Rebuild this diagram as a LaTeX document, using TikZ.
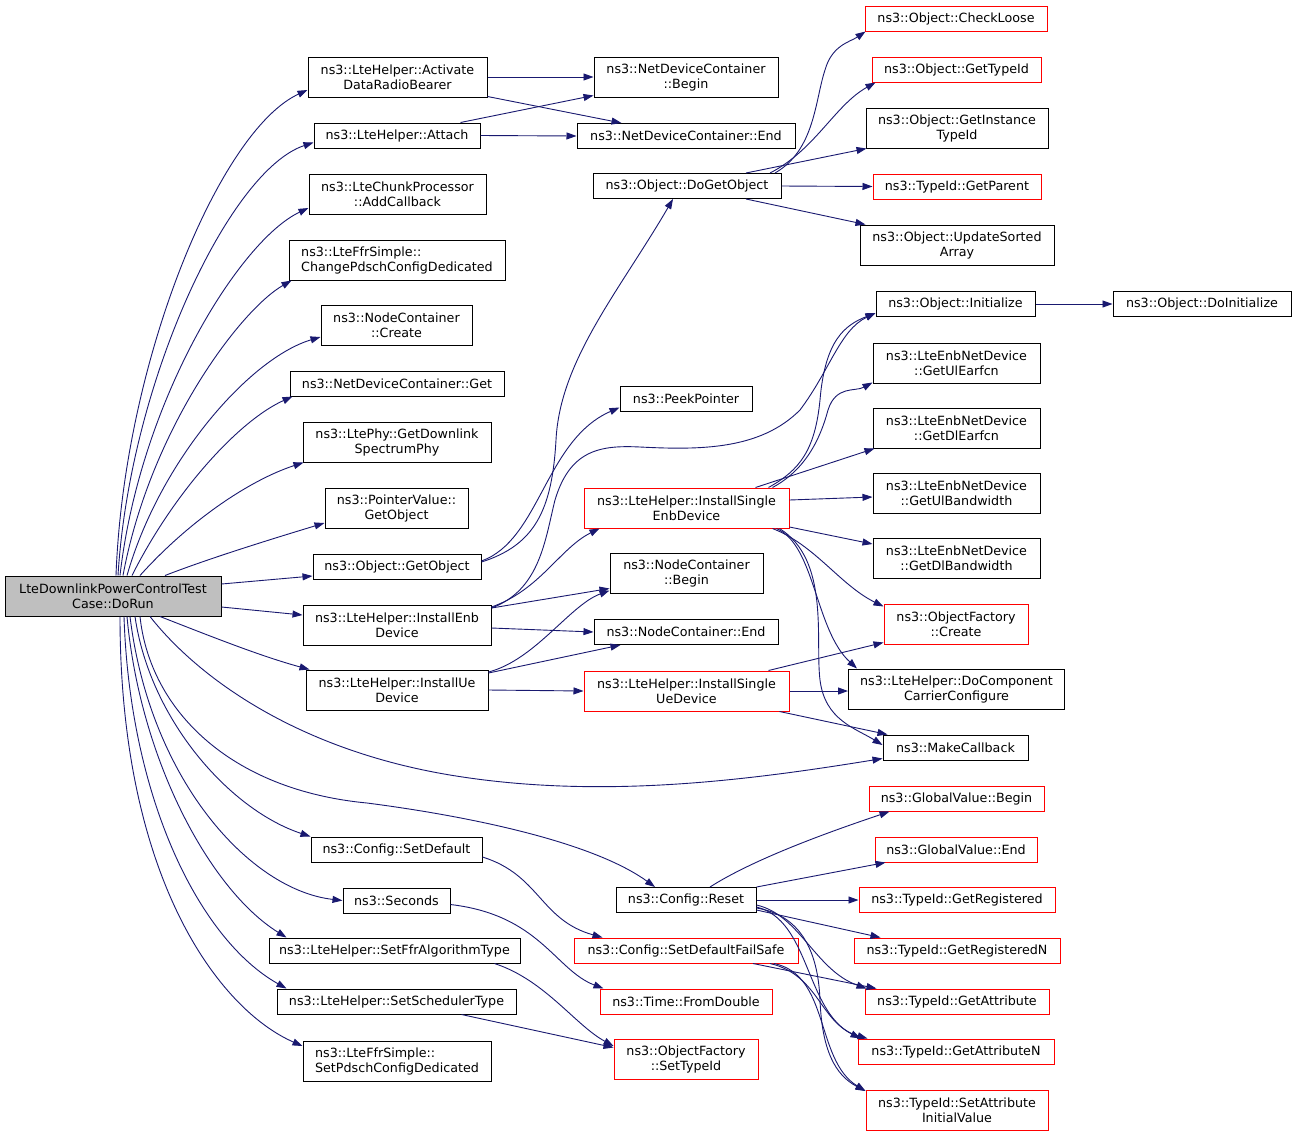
\documentclass[tikz,border=0pt]{standalone}
\usepackage{fontspec}
\setmainfont{DejaVu Sans}
\usetikzlibrary{arrows.meta}
\definecolor{edgeblue}{HTML}{191970}
\definecolor{nodegray}{HTML}{BFBFBF}
\begin{document}
\begin{tikzpicture}[x=1pt,y=-1pt,
  fn/.style={draw=black, fill=white, line width=1pt, inner sep=0pt, align=center, font=\fontsize{12.7}{15}\selectfont},
  fnred/.style={fn, draw=red},
  fnroot/.style={fn, fill=nodegray},
  call/.style={draw=edgeblue, line width=0.9pt, -{Triangle[length=10pt,width=7pt]}},
]
\useasboundingbox[fill=white] (0,0) rectangle (1296,1136);

% ---------- nodes ----------
\node[fnroot, minimum width=216pt, minimum height=40pt] (root) at (113,596) {LteDownlinkPowerControlTest\\Case::DoRun};

\node[fn, minimum width=179pt, minimum height=40pt] (A1) at (397.5,77) {ns3::LteHelper::Activate\\DataRadioBearer};
\node[fn, minimum width=166pt, minimum height=25pt] (A2) at (397,135.5) {ns3::LteHelper::Attach};
\node[fn, minimum width=177pt, minimum height=40pt] (A3) at (397.5,194) {ns3::LteChunkProcessor\\::AddCallback};
\node[fn, align=left, minimum width=216pt, minimum height=40pt] (A4) at (397,260) {ns3::LteFfrSimple::\\ChangePdschConfigDedicated};
\node[fn, minimum width=151pt, minimum height=40pt] (A5) at (396.5,325) {ns3::NodeContainer\\::Create};
\node[fn, minimum width=214pt, minimum height=25pt] (A6) at (397,383.5) {ns3::NetDeviceContainer::Get};
\node[fn, minimum width=188pt, minimum height=40pt] (A7) at (397,442) {ns3::LtePhy::GetDownlink\\SpectrumPhy};
\node[fn, minimum width=143pt, minimum height=40pt] (A8) at (396.5,508) {ns3::PointerValue::\\GetObject};
\node[fn, minimum width=168pt, minimum height=25pt] (A9) at (397,566.5) {ns3::Object::GetObject};
\node[fn, minimum width=188pt, minimum height=40pt] (A10) at (397,625) {ns3::LteHelper::InstallEnb\\Device};
\node[fn, minimum width=182pt, minimum height=40pt] (A11) at (397,690) {ns3::LteHelper::InstallUe\\Device};
\node[fn, minimum width=171pt, minimum height=25pt] (A12) at (396.5,849.5) {ns3::Config::SetDefault};
\node[fn, minimum width=107pt, minimum height=25pt] (A13) at (396.5,900.5) {ns3::Seconds};
\node[fn, minimum width=251pt, minimum height=25pt] (A14) at (394.5,950.5) {ns3::LteHelper::SetFfrAlgorithmType};
\node[fn, minimum width=239pt, minimum height=25pt] (A15) at (396.5,1001.5) {ns3::LteHelper::SetSchedulerType};
\node[fn, align=left, minimum width=188pt, minimum height=40pt] (A16) at (397,1061) {ns3::LteFfrSimple::\\SetPdschConfigDedicated};

\node[fn, minimum width=184pt, minimum height=40pt] (B1) at (686,77) {ns3::NetDeviceContainer\\::Begin};
\node[fn, minimum width=218pt, minimum height=25pt] (B2) at (686,136) {ns3::NetDeviceContainer::End};
\node[fn, minimum width=188pt, minimum height=25pt] (B3) at (687,186) {ns3::Object::DoGetObject};
\node[fn, minimum width=132pt, minimum height=25pt] (B4) at (686,398.5) {ns3::PeekPointer};
\node[fnred, minimum width=205pt, minimum height=40pt] (B5) at (686.5,508) {ns3::LteHelper::InstallSingle\\EnbDevice};
\node[fn, minimum width=153pt, minimum height=40pt] (B6) at (686.5,573) {ns3::NodeContainer\\::Begin};
\node[fn, minimum width=184pt, minimum height=25pt] (B7) at (686,632) {ns3::NodeContainer::End};
\node[fnred, minimum width=205pt, minimum height=40pt] (B8) at (686.5,691) {ns3::LteHelper::InstallSingle\\UeDevice};
\node[fn, minimum width=140pt, minimum height=25pt] (B9) at (686,900) {ns3::Config::Reset};
\node[fnred, minimum width=224pt, minimum height=25pt] (B10) at (686,950.5) {ns3::Config::SetDefaultFailSafe};
\node[fnred, minimum width=172pt, minimum height=25pt] (B11) at (686,1001.5) {ns3::Time::FromDouble};
\node[fnred, minimum width=144pt, minimum height=40pt] (B12) at (686,1059.5) {ns3::ObjectFactory\\::SetTypeId};

\node[fnred, minimum width=182pt, minimum height=25pt] (C1) at (956,18.5) {ns3::Object::CheckLoose};
\node[fnred, minimum width=169pt, minimum height=25pt] (C2) at (956.5,69.5) {ns3::Object::GetTypeId};
\node[fn, minimum width=182pt, minimum height=40pt] (C3) at (957,128) {ns3::Object::GetInstance\\TypeId};
\node[fnred, minimum width=168pt, minimum height=25pt] (C4) at (957,186.5) {ns3::TypeId::GetParent};
\node[fn, minimum width=194pt, minimum height=40pt] (C5) at (957,245) {ns3::Object::UpdateSorted\\Array};
\node[fn, minimum width=159pt, minimum height=25pt] (C6) at (955.5,304) {ns3::Object::Initialize};
\node[fn, minimum width=178pt, minimum height=25pt] (C7) at (1202,304) {ns3::Object::DoInitialize};

\node[fn, minimum width=167pt, minimum height=40pt] (D1) at (956.5,363) {ns3::LteEnbNetDevice\\::GetUlEarfcn};
\node[fn, minimum width=167pt, minimum height=40pt] (D2) at (956.5,428) {ns3::LteEnbNetDevice\\::GetDlEarfcn};
\node[fn, minimum width=167pt, minimum height=40pt] (D3) at (956.5,493) {ns3::LteEnbNetDevice\\::GetUlBandwidth};
\node[fn, minimum width=167pt, minimum height=40pt] (D4) at (956.5,558.5) {ns3::LteEnbNetDevice\\::GetDlBandwidth};
\node[fnred, minimum width=144pt, minimum height=40pt] (D5) at (956,624) {ns3::ObjectFactory\\::Create};
\node[fn, minimum width=216pt, minimum height=40pt] (D6) at (956.5,689) {ns3::LteHelper::DoComponent\\CarrierConfigure};
\node[fn, minimum width=145pt, minimum height=25pt] (D7) at (955.5,747.5) {ns3::MakeCallback};

\node[fnred, minimum width=175pt, minimum height=25pt] (E1) at (956.5,798.5) {ns3::GlobalValue::Begin};
\node[fnred, minimum width=162pt, minimum height=25pt] (E2) at (956,849.5) {ns3::GlobalValue::End};
\node[fnred, minimum width=196pt, minimum height=25pt] (E3) at (957,900) {ns3::TypeId::GetRegistered};
\node[fnred, minimum width=206pt, minimum height=25pt] (E4) at (957,950.5) {ns3::TypeId::GetRegisteredN};
\node[fnred, minimum width=184pt, minimum height=25pt] (E5) at (957,1001.5) {ns3::TypeId::GetAttribute};
\node[fnred, minimum width=196pt, minimum height=25pt] (E6) at (956,1051.5) {ns3::TypeId::GetAttributeN};
\node[fnred, minimum width=182pt, minimum height=40pt] (E7) at (957,1110.5) {ns3::TypeId::SetAttribute\\InitialValue};

% ---------- edges from root ----------
\draw[call] ([xshift=3pt]root.north) .. controls (124,360) and (220,130) .. ([yshift=-13pt]A1.west);
\draw[call] ([xshift=5pt]root.north) .. controls (130,380) and (230,170) .. ([yshift=-7pt]A2.west);
\draw[call] ([xshift=7pt]root.north) .. controls (140,400) and (240,240) .. ([yshift=-14pt]A3.west);
\draw[call] ([xshift=10pt]root.north) .. controls (150,430) and (240,310) .. ([xshift=3pt]A4.south west);
\draw[call] ([xshift=14pt]root.north) .. controls (160,460) and (250,358) .. ([yshift=-12pt]A5.west);
\draw[call] ([xshift=19pt]root.north) .. controls (175,490) and (240,420) .. ([xshift=3pt]A6.south west);
\draw[call] ([xshift=27pt]root.north) .. controls (190,520) and (250,480) .. ([xshift=1pt]A7.south west);
\draw[call] ([xshift=52pt]root.north) .. controls (210,558) and (275,538) .. ([yshift=-15pt]A8.west);
\draw[call] ([yshift=12pt]root.east) -- ([yshift=-9.5pt]A9.west);
\draw[call] ([yshift=-11pt]root.east) -- ([yshift=10pt]A10.west);
\draw[call] ([xshift=47pt]root.south) .. controls (210,636) and (260,656) .. ([xshift=4pt]A11.north west);
\draw[call] ([xshift=37pt]root.south) .. controls (200,680) and (300,750) .. (450,775) .. controls (600,800) and (750,780) .. ([yshift=2pt]D7.south west);
\draw[call] ([xshift=27pt]root.south) .. controls (150,710) and (230,790) .. (367,803) .. controls (460,815) and (590,840) .. ([xshift=-31pt]B9.north);
\draw[call] ([xshift=22pt]root.south) .. controls (150,720) and (230,810) .. (A12.north west);
\draw[call] ([xshift=17pt]root.south) .. controls (150,780) and (250,890) .. (A13.west);
\draw[call] ([xshift=14pt]root.south) .. controls (140,760) and (210,890) .. ([xshift=18pt]A14.north west);
\draw[call] ([xshift=11pt]root.south) .. controls (130,800) and (200,940) .. ([xshift=10pt]A15.north west);
\draw[call] ([xshift=7pt]root.south) .. controls (120,880) and (220,1010) .. ([yshift=15pt]A16.west);

% ---------- second level ----------
\draw[call] (A1.east) -- (B1.west);
\draw[call] ([yshift=1pt]A1.south east) -- ([xshift=45pt]B2.north west);
\draw[call] ([xshift=-20pt]A2.north east) -- ([yshift=2pt]B1.south west);
\draw[call] (A2.east) -- (B2.west);
\draw[call] ([yshift=4.5pt]A9.east) .. controls (535,545) and (552,510) .. (556,440) .. controls (560,360) and (620,290) .. ([xshift=-14pt]B3.south);
\draw[call] ([yshift=5.5pt]A9.east) .. controls (540,540) and (545,440) .. ([yshift=-9pt]B4.west);
\draw[call] ([yshift=18pt]A10.east) .. controls (540,590) and (560,548) .. ([xshift=16pt]B5.south west);
\draw[call] ([yshift=17pt]A10.east) .. controls (540,590) and (545,540) .. (555,500) .. controls (570,450) and (600,445) .. (640,447) .. controls (700,450) and (760,450) .. (800,410) .. controls (830,370) and (840,330) .. ([yshift=-9pt]C6.west);
\draw[call] ([yshift=17pt]A10.east) -- ([yshift=5pt]B6.south west);
\draw[call] ([yshift=-3pt]A10.east) -- (B7.west);
\draw[call] ([yshift=18pt]A11.east) .. controls (535,660) and (570,605) .. ([yshift=3pt]B6.south west);
\draw[call] ([yshift=17pt]A11.east) -- ([xshift=27pt]B7.south west);
\draw[call] (A11.east) -- (B8.west);

\draw[call] ([yshift=-7.5pt]A12.east) .. controls (540,875) and (540,920) .. ([xshift=29pt]B10.north west);
\draw[call] ([yshift=-4pt]A13.east) .. controls (540,915) and (555,970) .. ([xshift=4pt]B11.north west);
\draw[call] ([xshift=100pt]A14.south) .. controls (545,980) and (575,1025) .. ([yshift=13.5pt]B12.west);
\draw[call] ([xshift=65pt]A15.south) -- ([yshift=12pt]B12.west);

% ---------- DoGetObject ----------
\draw[call] ([xshift=88pt]B3.north) .. controls (815,150) and (815,100) .. (825,70) .. controls (832,45) and (850,42) .. ([xshift=1pt]C1.south west);
\draw[call] ([xshift=83pt]B3.north) .. controls (815,150) and (835,105) .. ([xshift=4pt]C2.south west);
\draw[call] ([xshift=59pt]B3.north) -- ([xshift=1pt]C3.south west);
\draw[call] (B3.east) -- (C4.west);
\draw[call] ([xshift=59pt]B3.south) -- ([xshift=6pt]C5.north west);
\draw[call] (C6.east) -- (C7.west);

% ---------- InstallSingleEnbDevice ----------
\draw[call] ([xshift=82pt]B5.north) .. controls (800,470) and (815,450) .. (820,400) .. controls (825,340) and (845,325) .. ([yshift=-9pt]C6.west);
\draw[call] ([xshift=86pt]B5.north) .. controls (805,470) and (820,440) .. (828,410) .. controls (836,385) and (855,392) .. ([yshift=1pt]D1.south west);
\draw[call] ([xshift=69pt]B5.north) -- ([xshift=2pt]D2.south west);
\draw[call] ([yshift=8pt]B5.east) -- ([yshift=-4pt]D3.west);
\draw[call] ([yshift=-19pt]B5.east) -- ([yshift=14.5pt]D4.west);
\draw[call] ([xshift=86pt]B5.south) .. controls (815,545) and (840,585) .. ([yshift=-3pt]D5.north west);
\draw[call] ([xshift=90pt]B5.south) .. controls (815,545) and (815,630) .. ([xshift=9pt]D6.north west);
\draw[call] ([xshift=93pt]B5.south) .. controls (830,560) and (815,640) .. (820,680) .. controls (825,720) and (855,728) .. ([yshift=2.5pt]D7.west);

% ---------- InstallSingleUeDevice ----------
\draw[call] ([xshift=82pt]B8.north) -- ([yshift=2pt]D5.south west);
\draw[call] (B8.east) -- ([yshift=-2pt]D6.west);
\draw[call] ([xshift=93pt]B8.south) -- ([xshift=5pt]D7.north west);

% ---------- Config::Reset ----------
\draw[call] ([xshift=24pt]B9.north) .. controls (760,855) and (850,825) .. ([xshift=21pt]E1.south west);
\draw[call] (B9.north east) -- ([xshift=11pt]E2.south west);
\draw[call] (B9.east) -- (E3.west);
\draw[call] ([yshift=-10pt]B9.east) -- ([xshift=27pt]E4.north west);
\draw[call] ([yshift=-5pt]B9.east) .. controls (800,915) and (815,970) .. ([xshift=2pt]E5.north west);
\draw[call] ([yshift=-7pt]B9.east) .. controls (810,920) and (805,1010) .. ([xshift=3pt]E6.north west);
\draw[call] ([yshift=-8pt]B9.east) .. controls (800,915) and (818,950) .. (820,1000) .. controls (822,1050) and (835,1075) .. ([yshift=-1pt]E7.north west);

% ---------- SetDefaultFailSafe ----------
\draw[call] ([xshift=67pt]B10.south) -- ([xshift=12pt]E5.north west);
\draw[call] ([xshift=84pt]B10.south) .. controls (820,975) and (820,1025) .. ([xshift=10pt]E6.north west);
\draw[call] ([xshift=88pt]B10.south) .. controls (830,975) and (815,1060) .. ([yshift=-1pt]E7.north west);
\end{tikzpicture}
\end{document}
